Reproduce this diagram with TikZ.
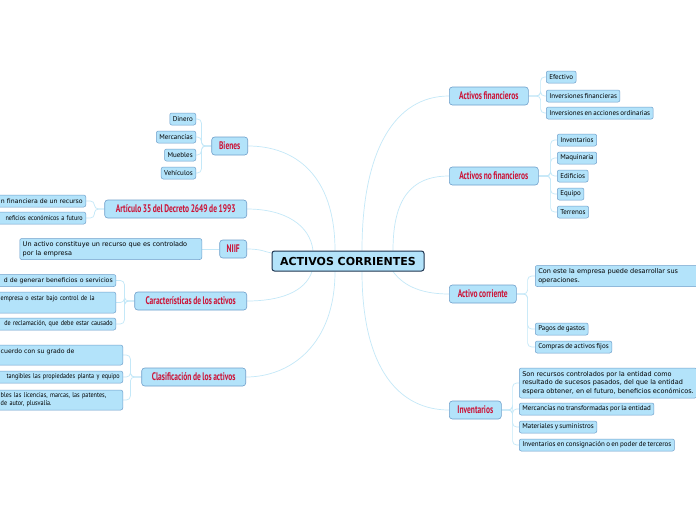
\documentclass[tikz,border=0pt]{standalone}
\usepackage{fontspec}
\setmainfont{DejaVu Sans}
\newfontfamily\brfont[FakeStretch=0.68,WordSpace=0.8]{PT Sans}
\newfontfamily\chfont[WordSpace=0.75]{PT Sans}
\newfontfamily\chcfont[FakeStretch=0.88,WordSpace=0.75]{PT Sans}
\newfontfamily\vfont{DejaVu Sans}
\usetikzlibrary{backgrounds}
\definecolor{nodefill}{HTML}{B3E3FA}
\definecolor{nodeline}{HTML}{6F9FCB}
\definecolor{linkc}{HTML}{C4E8F8}
\definecolor{redtxt}{HTML}{CC1236}
\definecolor{rootline}{HTML}{1E3550}
\tikzset{
 root/.style={draw=rootline, fill=nodefill, rounded corners=2.5pt, line width=1pt, font=\vfont\bfseries\fontsize{11}{12}\selectfont, minimum height=20, minimum width=152, inner xsep=5},
 branch/.style={draw=nodeline, fill=nodefill, rounded corners=3pt, line width=0.6pt, text=redtxt, font=\brfont\bfseries\fontsize{11}{12}\selectfont, minimum height=18, inner xsep=4},
 leaf/.style={draw=nodeline, fill=nodefill, rounded corners=2pt, line width=0.5pt, font=\chfont\fontsize{7}{8}\selectfont, minimum height=12, inner xsep=3, inner ysep=1},
 leafv/.style={leaf, font=\vfont\fontsize{6.5}{8.5}\selectfont, align=left},
 condensed/.style={font=\chcfont\fontsize{7}{8}\selectfont},
 verd/.style={font=\vfont\fontsize{6.2}{8.5}\selectfont},
 cut/.style={text width=200, align=right},
 cutl/.style={text width=#1, align=left},
 link/.style={draw=linkc, line width=0.7pt},
 sub/.style={link, rounded corners=4pt}
}
\begin{document}
\begin{tikzpicture}[x=1pt,y=-1pt]
\useasboundingbox (0,0) rectangle (696,520);
% root
\node[root] (c) at (348,261) {ACTIVOS CORRIENTES};
% branches right
\node[branch, anchor=west, minimum width=79] (af) at (449,96) {Activos financieros};
\node[branch, anchor=west, minimum width=89] (anf) at (449,176) {Activos no financieros};
\node[branch, anchor=west, minimum width=67] (acc) at (449,294) {Activo corriente};
\node[branch, anchor=west, minimum width=52] (inv) at (449,410) {Inventarios};
% branches left
\node[branch, anchor=east, minimum width=36] (bie) at (248,146) {Bienes};
\node[branch, anchor=east, minimum width=142] (art) at (247,209) {Artículo 35 del Decreto 2649 de 1993};
\node[branch, anchor=east, minimum width=27] (niif) at (247,249) {NIIF};
\node[branch, anchor=east, minimum width=112] (car) at (247,301) {Características de los activos};
\node[branch, anchor=east, minimum width=104] (cla) at (246,377) {Clasificación de los activos};
% leaves: activos financieros
\node[leaf, anchor=west] (ef) at (546,77) {Efectivo};
\node[leaf, anchor=west] (ifn) at (546,96) {Inversiones financieras};
\node[leaf, anchor=west] (ia) at (546,113) {Inversiones en acciones ordinarias};
% leaves: activos no financieros
\node[leaf, anchor=west] (ninv) at (557,140) {Inventarios};
\node[leaf, anchor=west] (nmaq) at (557,158) {Maquinaria};
\node[leaf, anchor=west] (nedi) at (557,176) {Edificios};
\node[leaf, anchor=west] (nequ) at (557,194) {Equipo};
\node[leaf, anchor=west] (nter) at (557,212) {Terrenos};
% leaves: activo corriente
\node[leafv, anchor=west, text width=170, minimum height=21] (cce) at (535,276) {Con este la empresa puede desarrollar sus\\operaciones.};
\node[leaf, anchor=west] (cpg) at (535,329) {Pagos de gastos};
\node[leaf, anchor=west] (ccf) at (535,347) {Compras de activos fijos};
% leaves: inventarios
\node[leafv, anchor=west, minimum height=30] (isr) at (519,383) {Son recursos controlados por la entidad como\\resultado de sucesos pasados, del que la entidad\\espera obtener, en el futuro, beneficios económicos.};
\node[leaf, anchor=west] (imn) at (519,409) {Mercancías no transformadas por la entidad};
\node[leaf, anchor=west] (ims) at (519,427) {Materiales y suministros};
\node[leaf, anchor=west] (iic) at (519,445) {Inventarios en consignación o en poder de terceros};
% leaves: bienes
\node[leaf, anchor=east] (bdi) at (196,119) {Dinero};
\node[leaf, anchor=east] (bme) at (196,137) {Mercancías};
\node[leaf, anchor=east] (bmu) at (196,155) {Muebles};
\node[leaf, anchor=east] (bve) at (196,173) {Vehículos};
% leaves: articulo
\node[leaf, cut, verd, anchor=east] (a1) at (86,201) {n financiera de un recurso};
\node[leaf, cut, condensed, anchor=east] (a2) at (86,218) {neficios económicos a futuro};
% leaf: NIIF
\node[leafv, anchor=east, text width=176, minimum height=21] (n1) at (202,249) {Un activo constituye un recurso que es controlado\\por la empresa};
% leaves: caracteristicas
\node[leaf, cut, verd, anchor=east] (k1) at (116,280.5) {d de generar beneficios o servicios};
\node[leaf, cutl=112, condensed, anchor=east, minimum height=21] (k2) at (116,302.5) {empresa o estar bajo control de la\\ \mbox{}};
\node[leaf, cut, condensed, anchor=east] (k3) at (116,324) {de reclamación, que debe estar causado};
% leaves: clasificacion
\node[leaf, cutl=119, verd, anchor=east, minimum height=20] (l1) at (123,355) {cuerdo con su grado de\\ \mbox{}};
\node[leaf, cut, condensed, anchor=east] (l2) at (123,377) {tangibles las propiedades planta y equipo};
\node[leaf, cutl=119, condensed, anchor=east, minimum height=20] (l3) at (123,400) {bles las licencias, marcas, las patentes,\\de autor, plusvalía.};
% connector anchor points
\coordinate (aft) at ([xshift=14]c.north);
\coordinate (anft) at ([xshift=45]c.north);
\coordinate (biet) at ([xshift=-13]c.north);
\coordinate (artt) at ([xshift=-35]c.north);
\coordinate (accb) at ([xshift=45]c.south);
\coordinate (invb) at ([xshift=14]c.south);
\coordinate (carb) at ([xshift=-36]c.south);
\coordinate (clab) at ([xshift=-13]c.south);
\coordinate (niifc) at ([yshift=8]c.west);
\begin{scope}[on background layer]
\fill[white] (0,0) rectangle (696,520);
\draw[link] (aft) .. controls (362,150) and (395,96) .. (af.west);
\draw[link] (anft) .. controls (393,200) and (410,176) .. (anf.west);
\draw[link] (accb) .. controls (405,288) and (425,294) .. (acc.west);
\draw[link] (invb) .. controls (362,370) and (400,410) .. (inv.west);
\draw[link] (biet) .. controls (335,175) and (295,146) .. (bie.east);
\draw[link] (artt) .. controls (310,225) and (285,209) .. (art.east);
\draw[link] (carb) .. controls (305,292) and (280,301) .. (car.east);
\draw[link] (clab) .. controls (335,345) and (290,377) .. (cla.east);
\draw[link] (niif.east) .. controls (262,249) and (265,252) .. (niifc);
\foreach \n in {ef,ifn,ia} \draw[sub] (af.east) -- ++(12,0) |- (\n.west);
\foreach \n in {ninv,nmaq,nedi,nequ,nter} \draw[sub] (anf.east) -- ++(12,0) |- (\n.west);
\foreach \n in {cce,cpg,ccf} \draw[sub] (acc.east) -- ++(11,0) |- (\n.west);
\foreach \n in {isr,imn,ims,iic} \draw[sub] (inv.east) -- ++(11,0) |- (\n.west);
\foreach \n in {bdi,bme,bmu,bve} \draw[sub] (bie.west) -- ++(-10,0) |- (\n.east);
\foreach \n in {a1,a2} \draw[sub] (art.west) -- ++(-10,0) |- (\n.east);
\foreach \n in {k1,k2,k3} \draw[sub] (car.west) -- ++(-10,0) |- (\n.east);
\foreach \n in {l1,l2,l3} \draw[sub] (cla.west) -- ++(-11,0) |- (\n.east);
\draw[link] (niif.west) -- (n1.east);
\end{scope}
\end{tikzpicture}
\end{document}
